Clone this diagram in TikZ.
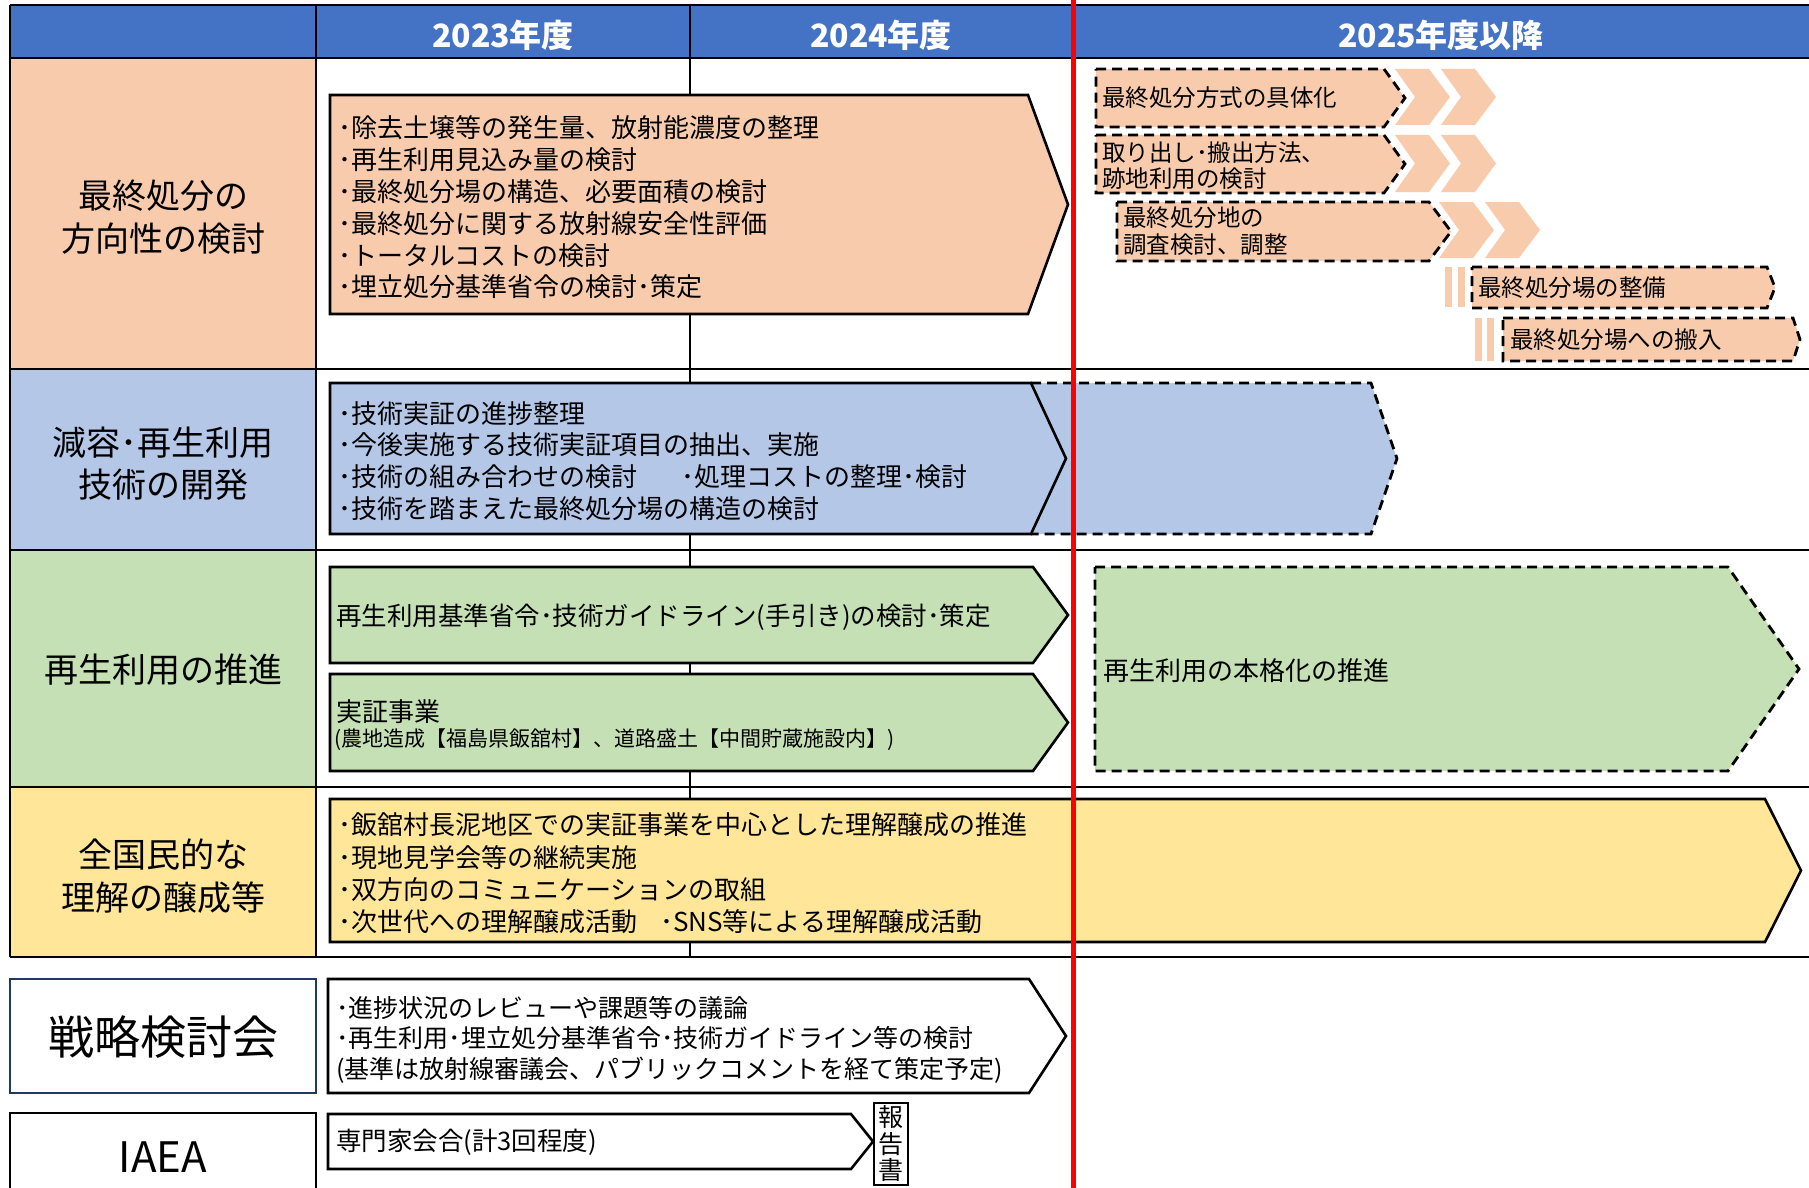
\documentclass[tikz,border=0pt]{standalone}
\usepackage{fontspec}
\setmainfont{Noto Sans CJK JP}
\definecolor{hdr}{HTML}{4472C4}
\definecolor{peach}{HTML}{F8CBAD}
\definecolor{lblue}{HTML}{B4C7E7}
\definecolor{lgreen}{HTML}{C5E0B4}
\definecolor{lyellow}{HTML}{FFE699}
\definecolor{navy}{HTML}{203864}
\newcommand\fsz[2]{\fontsize{#1}{#2}\selectfont}
\newcommand\penta[6]{\path[#1] (#2,#3) -- (#4,#3) -- (#5,{(#3+#6)/2}) -- (#4,#6) -- (#2,#6) -- cycle;}
\newcommand\chev[3]{\fill[peach] (#1,#2) -- ({#1+34},#2) -- ({#1+55},{(#2+#3)/2}) -- ({#1+34},#3) -- (#1,#3) -- ({#1+20},{(#2+#3)/2}) -- cycle;}
\begin{document}
\begin{tikzpicture}[x=1pt,y=-1pt,
  gridline/.style={line width=2pt,draw=black},
  solidbox/.style={draw=black,line width=2.6pt,line join=miter},
  dashbox/.style={draw=black,line width=2.8pt,dash pattern=on 10pt off 6pt},
  body/.style={anchor=west,inner sep=0pt,align=left,text=black},
  lbl/.style={anchor=center,inner sep=0pt,align=center,text=black},
  hdrtxt/.style={anchor=center,inner sep=0pt,text=white,font=\fsz{32}{36}\bfseries}]
\useasboundingbox (0,0) rectangle (1809,1188);
\fill[white] (0,0) rectangle (1809,1188);
% ---- table backgrounds
\fill[hdr] (10,5) rectangle (1809,58);
\fill[peach] (10,58) rectangle (316,369);
\fill[lblue] (10,369) rectangle (316,550);
\fill[lgreen] (10,550) rectangle (316,787);
\fill[lyellow] (10,787) rectangle (316,957);
% ---- grid
\draw[gridline] (10,5) -- (1809,5);
\draw[gridline] (10,58) -- (1809,58);
\draw[gridline] (10,369) -- (1809,369);
\draw[gridline] (10,550) -- (1809,550);
\draw[gridline] (10,787) -- (1809,787);
\draw[gridline] (10,957) -- (1809,957);
\draw[gridline] (10,5) -- (10,957);
\draw[gridline] (316,5) -- (316,957);
\draw[line width=1.5pt] (690,5) -- (690,957);
% ---- lower left boxes
\draw[draw=navy,line width=2.6pt,fill=white] (10,979) rectangle (316,1093);
\draw[gridline] (10,1200) -- (10,1113) -- (316,1113) -- (316,1200);
% ---- row 1 shapes
\penta{solidbox,fill=peach}{330}{95}{1028}{1068}{314}
\penta{dashbox,fill=peach}{1096}{69}{1384}{1405}{127}
\penta{dashbox,fill=peach}{1096}{135}{1384}{1405}{193}
\penta{dashbox,fill=peach}{1117}{202}{1429}{1451}{261}
\chev{1395}{69}{125}
\chev{1441}{69}{125}
\chev{1395}{135}{192}
\chev{1441}{135}{192}
\chev{1439}{202}{258}
\chev{1485}{202}{258}
\fill[peach] (1445,267) rectangle (1452,307);
\fill[peach] (1458,267) rectangle (1465,307);
\penta{dashbox,fill=peach}{1472}{267}{1767}{1775}{308}
\fill[peach] (1475,318) rectangle (1482,361);
\fill[peach] (1487,318) rectangle (1494,361);
\penta{dashbox,fill=peach}{1503}{318}{1793}{1800}{361}
% ---- row 2 shapes
\fill[lblue] (1000,383) -- (1371,383) -- (1397,458.5) -- (1371,534) -- (1000,534) -- cycle;
\draw[dashbox] (1031,383) -- (1371,383) -- (1397,458.5) -- (1371,534) -- (1031,534);
\penta{solidbox,fill=lblue}{330}{383}{1031}{1066}{534}
% ---- row 3 shapes
\penta{solidbox,fill=lgreen}{330}{567}{1033}{1068}{663}
\penta{solidbox,fill=lgreen}{330}{674}{1033}{1068}{771}
\penta{dashbox,fill=lgreen}{1095}{567}{1728}{1799}{771}
% ---- row 4 shapes
\penta{solidbox,fill=lyellow}{330}{799}{1765}{1801}{942}
% ---- lower shapes
\penta{solidbox,fill=white}{328}{979}{1029}{1066}{1093}
\penta{solidbox,fill=white}{328}{1114}{851}{873}{1169}
\draw[line width=2.4pt,fill=white] (874,1103) rectangle (908,1185);
% ---- header text
\node[hdrtxt] (h1) at (503,35) {2023年度};
\node[hdrtxt] (h2) at (881,35) {2024年度};
\node[hdrtxt] (h3) at (1441,35) {2025年度以降};
% ---- row labels
\node[lbl,font=\fsz{34}{43}] (l1) at (163,217.5) {最終処分の\\方向性の検討};
\node[lbl,font=\fsz{34}{42}] (l2) at (163,464) {減容･再生利用\\技術の開発};
\node[lbl,font=\fsz{34}{43}] (l3) at (163,670) {再生利用の推進};
\node[lbl,font=\fsz{34}{43}] (l4) at (163,876.5) {全国民的な\\理解の醸成等};
\node[lbl,font=\fsz{46}{50}] (l5) at (163,1037) {戦略検討会};
\node[lbl,font=\fsz{42}{46}] (l6) at (163,1157) {IAEA};
% ---- row 1 text
\node[body,font=\fsz{26}{31.8}] (t1) at (338,207.5) {･除去土壌等の発生量、放射能濃度の整理\\･再生利用見込み量の検討\\･最終処分場の構造、必要面積の検討\\･最終処分に関する放射線安全性評価\\･トータルコストの検討\\･埋立処分基準省令の検討･策定};
\node[body,font=\fsz{23.5}{26}] (a1) at (1102,98) {最終処分方式の具体化};
\node[body,font=\fsz{23.5}{26}] (a2) at (1102,165.5) {取り出し･搬出方法、\\跡地利用の検討};
\node[body,font=\fsz{23.5}{27}] (a3) at (1123,231.5) {最終処分地の\\調査検討、調整};
\node[body,font=\fsz{23.5}{26}] (a4) at (1478,288) {最終処分場の整備};
\node[body,font=\fsz{23.5}{26}] (a5) at (1510,340) {最終処分場への搬入};
% ---- row 2 text
\node[body,font=\fsz{26}{31.7}] (t2) at (338,460.75) {･技術実証の進捗整理\\･今後実施する技術実証項目の抽出、実施\\\makebox[343pt][l]{･技術の組み合わせの検討}･処理コストの整理･検討\\･技術を踏まえた最終処分場の構造の検討};
% ---- row 3 text
\node[body,font=\fsz{25.5}{30}] (t3) at (336,617) {再生利用基準省令･技術ガイドライン(手引き)の検討･策定};
\node[body,font=\fsz{26}{30}] (t4) at (336,712) {実証事業};
\node[body,font=\fsz{21}{25}] (t5) at (334,740) {(農地造成【福島県飯舘村】、道路盛土【中間貯蔵施設内】)};
\node[body,font=\fsz{26}{30}] (t6) at (1103,671) {再生利用の本格化の推進};
% ---- row 4 text
\node[body,font=\fsz{26}{32.3}] (t7) at (338,873.5) {･飯舘村長泥地区での実証事業を中心とした理解醸成の推進\\･現地見学会等の継続実施\\･双方向のコミュニケーションの取組\\\makebox[322pt][l]{･次世代への理解醸成活動}･SNS等による理解醸成活動};
% ---- lower text
\node[body,font=\fsz{25}{30.5}] (t8) at (336,1039.5) {･進捗状況のレビューや課題等の議論\\･再生利用･埋立処分基準省令･技術ガイドライン等の検討\\(基準は放射線審議会、パブリックコメントを経て策定予定)};
\node[body,font=\fsz{25.5}{30}] (t9) at (336,1142) {専門家会合(計3回程度)};
\node[lbl,font=\fsz{25}{26.5}] (t10) at (891,1144) {報\\告\\書};
% ---- red line
\draw[red,line width=5pt] (1073,0) -- (1073,1188);
\end{tikzpicture}
\end{document}
